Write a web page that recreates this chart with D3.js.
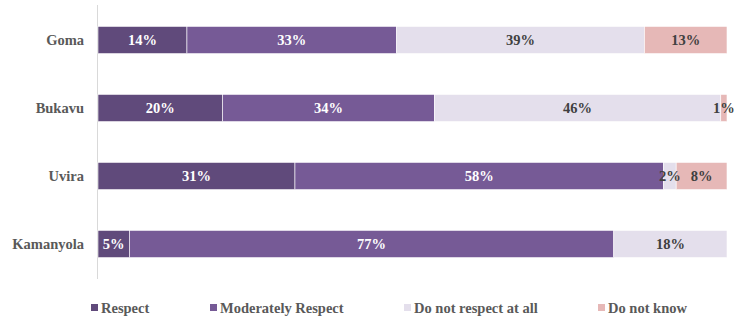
<!DOCTYPE html>
<html>
<head>
<meta charset="utf-8">
<script src="https://cdn.jsdelivr.net/npm/d3@7"></script>
<style>
  html, body { margin: 0; padding: 0; background: #fff; }
  svg { display: block; }
  svg text { font-family: "Liberation Serif", "Times New Roman", serif; font-weight: bold; font-size: 14.5px; }
</style>
</head>
<body>
<svg id="chart" width="744" height="321"></svg>
<script>
// Survey results per town (percent of respondents)
const towns = ["Goma", "Bukavu", "Uvira", "Kamanyola"];
const seriesNames = ["Respect", "Moderately Respect", "Do not respect at all", "Do not know"];
const respect = [14, 20, 31, 5];
const moderatelyRespect = [33, 34, 58, 77];
const doNotRespect = [39, 46, 2, 18];
const doNotKnow = [13, 1, 8, 0];

const colors = ["#604a7b", "#765a96", "#e4dfec", "#e6b8b7"];
const labelColors = ["#ffffff", "#ffffff", "#404040", "#404040"];
const font = "Liberation Serif";

const seriesValues = [respect, moderatelyRespect, doNotRespect, doNotKnow];
const rows = towns.map((t, i) => {
  const r = { town: t };
  seriesNames.forEach((s, k) => { r[s] = seriesValues[k][i]; });
  return r;
});

// 100% stacked layout
const stack = d3.stack().keys(seriesNames).offset(d3.stackOffsetExpand);
const layers = stack(rows);

const svg = d3.select("#chart");
const x = d3.scaleLinear().domain([0, 1]).range([98, 727]);
const y = d3.scaleBand().domain(towns).range([6, 278]).paddingInner(0.6).paddingOuter(0.3);

// vertical category axis line
svg.append("line")
  .attr("x1", 97.5).attr("x2", 97.5)
  .attr("y1", 5).attr("y2", 279)
  .attr("stroke", "#d9d9d9").attr("stroke-width", 1);

const g = svg.append("g");
layers.forEach((layer, k) => {
  g.selectAll(null).data(layer).enter().append("rect")
    .attr("x", d => x(d[0]))
    .attr("y", d => y(d.data.town))
    .attr("width", d => Math.max(0, x(d[1]) - x(d[0])))
    .attr("height", y.bandwidth())
    .attr("fill", colors[k])
    .attr("stroke", "#ffffff")
    .attr("stroke-width", 0.6);
});

// value labels, centred in each segment
layers.forEach((layer, k) => {
  g.selectAll(null).data(layer.filter(d => d.data[seriesNames[k]] > 0)).enter().append("text")
    .attr("x", d => (x(d[0]) + x(d[1])) / 2)
    .attr("y", d => y(d.data.town) + y.bandwidth() / 2)
    .attr("dy", "0.35em")
    .attr("text-anchor", "middle")
    .style("font-family", font)
    .style("fill", labelColors[k])
    .text(d => d.data[seriesNames[k]] + "%");
});

// category labels
const yAxis = d3.axisLeft(y).tickSize(0).tickPadding(0);
const ya = svg.append("g").attr("transform", "translate(84,0)").call(yAxis);
ya.select(".domain").remove();
ya.selectAll("text")
  .style("font-family", font)
  .style("font-size", "14.5px")
  .style("fill", "#595959");

// legend
const legendX = [91, 210, 404, 598];
const legend = svg.append("g");
seriesNames.forEach((s, k) => {
  legend.append("rect")
    .attr("x", legendX[k]).attr("y", 304)
    .attr("width", 7).attr("height", 7)
    .attr("fill", colors[k]);
  legend.append("text")
    .attr("x", legendX[k] + 10).attr("y", 307.5)
    .attr("dy", "0.35em")
    .style("font-family", font)
    .style("fill", "#595959")
    .text(s);
});
</script>
</body>
</html>
